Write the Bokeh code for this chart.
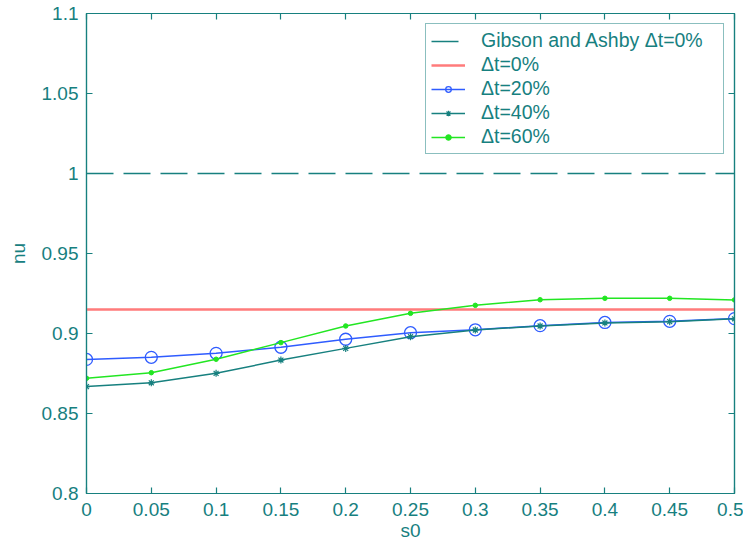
from bokeh.plotting import figure
from bokeh.models import (Range1d, LinearAxis, FixedTicker, NumeralTickFormatter,
                          Legend, LegendItem)
from bokeh.embed import file_html
from bokeh.resources import INLINE

# ---- data ----
s0 = [0.0, 0.05, 0.1, 0.15, 0.2, 0.25, 0.3, 0.35, 0.4, 0.45, 0.5]
gibson_ashby_0 = [1.0, 1.0, 1.0, 1.0, 1.0, 1.0, 1.0, 1.0, 1.0, 1.0, 1.0]
dt_0 = [0.915, 0.915, 0.915, 0.915, 0.915, 0.915, 0.915, 0.915, 0.915, 0.915, 0.915]
dt_20 = [0.8838, 0.8851, 0.8876, 0.8914, 0.8964, 0.9005, 0.9023, 0.9049, 0.9069, 0.9076, 0.9093]
dt_40 = [0.8668, 0.8692, 0.8751, 0.8834, 0.8907, 0.8980, 0.9022, 0.9047, 0.9066, 0.9074, 0.9092]
dt_60 = [0.8720, 0.8755, 0.8839, 0.8943, 0.9047, 0.9126, 0.9176, 0.9211, 0.9220, 0.9220, 0.9210]

x_ticks = [0.0, 0.05, 0.1, 0.15, 0.2, 0.25, 0.3, 0.35, 0.4, 0.45, 0.5]
y_ticks = [0.8, 0.85, 0.9, 0.95, 1.0, 1.05, 1.1]

labels = ["Gibson and Ashby \u0394t=0%", "\u0394t=0%", "\u0394t=20%", "\u0394t=40%", "\u0394t=60%"]

# ---- styles ----
INK = "#17807f"
RED = "#ff7b7b"
BLUE = "#2f5cff"
GREEN = "#22e622"
FONT = "Liberation Sans"
FS = "19px"

p = figure(frame_width=648, frame_height=480,
           min_border_left=86, min_border_right=9, min_border_top=13, min_border_bottom=40,
           x_range=Range1d(0, 0.5), y_range=Range1d(0.8, 1.1),
           output_backend="svg", toolbar_location=None,
           x_axis_label="s0", y_axis_label="nu")
p.xgrid.visible = False
p.ygrid.visible = False
p.outline_line_color = INK
p.outline_line_width = 1.2
p.background_fill_color = "white"
p.border_fill_color = "white"

def style_axis(ax, ticks, show_labels):
    ax.ticker = FixedTicker(ticks=ticks)
    ax.formatter = NumeralTickFormatter(format="0.[00]")
    ax.axis_line_color = INK
    ax.axis_line_width = 1.2
    ax.major_tick_line_color = INK
    ax.major_tick_line_width = 1.2
    ax.major_tick_in = 6
    ax.major_tick_out = 0
    ax.minor_tick_line_color = None
    ax.major_label_text_font = FONT
    if show_labels:
        ax.major_label_text_font_size = FS
        ax.major_label_text_color = INK
    else:
        ax.major_label_text_font_size = "1px"
        ax.major_label_text_color = None
        ax.major_label_standoff = 0
    ax.axis_label_text_font = FONT
    ax.axis_label_text_font_size = FS
    ax.axis_label_text_font_style = "normal"
    ax.axis_label_text_color = INK

style_axis(p.xaxis[0], x_ticks, True)
style_axis(p.yaxis[0], y_ticks, True)
p.xaxis[0].major_label_standoff = 9
p.xaxis[0].axis_label_standoff = 1
p.yaxis[0].major_label_standoff = 8
p.yaxis[0].axis_label_standoff = 10

top = LinearAxis()
right = LinearAxis()
style_axis(top, x_ticks, False)
style_axis(right, y_ticks, False)
p.add_layout(top, "above")
p.add_layout(right, "right")

# ---- series ----
r_g = p.line(s0, gibson_ashby_0, line_color=INK, line_width=1.5, line_dash="27 10")
r_0 = p.line(s0, dt_0, line_color=RED, line_width=2.5)
r_20l = p.line(s0, dt_20, line_color=BLUE, line_width=1.5)
r_20m = p.scatter(s0, dt_20, marker="circle", size=12, fill_color=None,
                  line_color=BLUE, line_width=1.3)
r_40l = p.line(s0, dt_40, line_color=INK, line_width=1.5)
r_40m = p.scatter(s0, dt_40, marker="asterisk", size=7, line_color=INK, line_width=1.2)
r_60l = p.line(s0, dt_60, line_color=GREEN, line_width=1.5)
r_60m = p.scatter(s0, dt_60, marker="circle", size=4.5, fill_color=GREEN,
                  line_color=GREEN)

legend = Legend(items=[
    LegendItem(label=labels[0], renderers=[r_g]),
    LegendItem(label=labels[1], renderers=[r_0]),
    LegendItem(label=labels[2], renderers=[r_20l, r_20m]),
    LegendItem(label=labels[3], renderers=[r_40l, r_40m]),
    LegendItem(label=labels[4], renderers=[r_60l, r_60m]),
], location="top_right")
legend.margin = 10
legend.padding = 5
legend.spacing = 1
legend.glyph_height = 14
legend.label_height = 14
legend.glyph_width = 34
legend.label_standoff = 16
legend.label_width = 237
legend.label_text_font = FONT
legend.label_text_font_size = "19.5px"
legend.label_text_color = INK
legend.border_line_color = INK
legend.border_line_width = 1.2
legend.background_fill_color = "white"
legend.background_fill_alpha = 1.0
p.add_layout(legend, "center")

open("out.html", "w").write(file_html(p, INLINE))
